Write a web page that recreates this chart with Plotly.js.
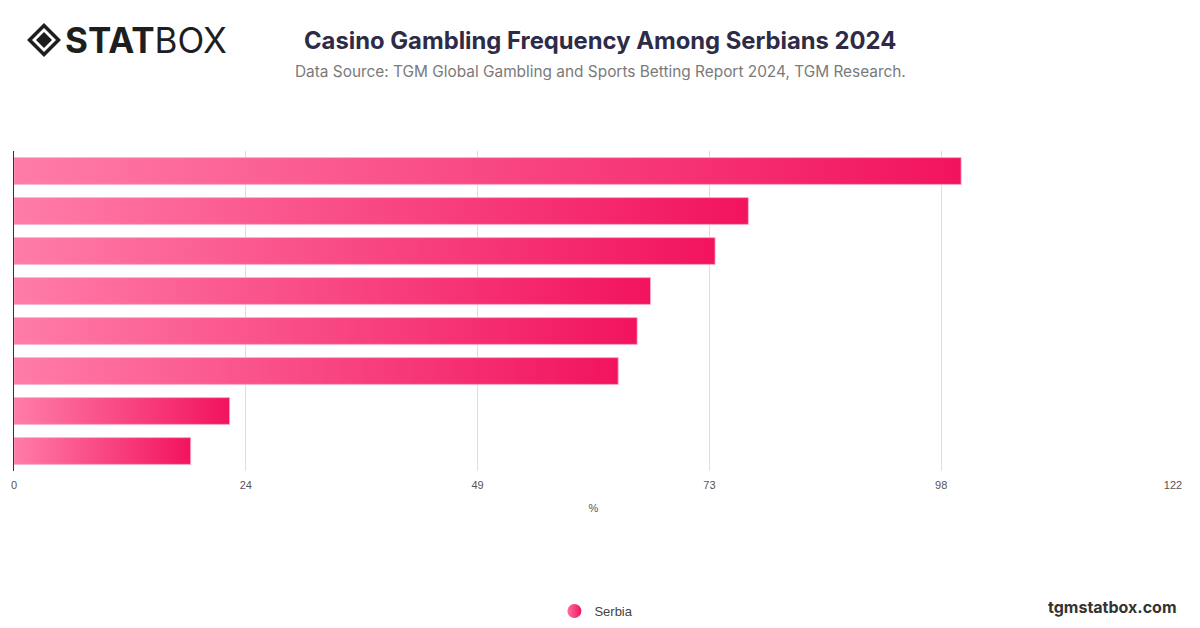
<!DOCTYPE html>
<html>
<head>
<meta charset="utf-8">
<script src="https://cdn.plot.ly/plotly-3.0.1.min.js"></script>
<style>
html,body{margin:0;padding:0;background:#fff;}
#chart{width:1200px;height:628px;}
</style>
</head>
<body>
<div id="chart"></div>
<script>
// Data (category labels are not shown in the reference)
var categories = ["Item 1","Item 2","Item 3","Item 4","Item 5","Item 6","Item 7","Item 8"];
var serbiaValues = [99.7, 77.3, 73.8, 67.0, 65.6, 63.6, 22.7, 18.6];
var tickValues = [0, 24.4, 48.8, 73.2, 97.6, 122];
var tickLabels = ["0","24","49","73","98","122"];
var seriesName = "Serbia";

var barTrace = {
  type: "bar",
  orientation: "h",
  y: categories,
  x: serbiaValues,
  name: seriesName,
  showlegend: false,
  marker: {color: "#f7417f", line: {color: "#ffb3cf", width: 0.8}},
  hoverinfo: "x"
};
var legendTrace = {
  type: "scatter",
  mode: "markers",
  x: [null], y: [null],
  name: seriesName,
  marker: {symbol: "circle", size: 14, color: "#f7417f"},
  showlegend: true,
  hoverinfo: "skip"
};

var layout = {
  width: 1200, height: 628,
  margin: {l: 14, r: 27, t: 151, b: 157},
  paper_bgcolor: "#ffffff",
  plot_bgcolor: "#ffffff",
  font: {family: "Inter, 'Liberation Sans', sans-serif", color: "#555"},
  bargap: 0.33,
  showlegend: true,
  legend: {orientation: "h", x: 0.497, xanchor: "center", xref: "container", y: 0.027, yanchor: "middle", yref: "container",
           font: {size: 13, color: "#444", family: "'Liberation Sans', sans-serif"}, itemwidth: 30},
  xaxis: {
    range: [0, 122], tickvals: tickValues, ticktext: tickLabels,
    showgrid: true, gridcolor: "#dedede", gridwidth: 1,
    zeroline: false, showline: false, ticks: "", ticklabelstandoff: 6,
    tickfont: {size: 11, color: "#555", family: "'Liberation Sans', sans-serif"},
    title: {text: "%", font: {size: 11, color: "#555", family: "'Liberation Sans', sans-serif"}, standoff: 14},
    fixedrange: true
  },
  yaxis: {
    autorange: "reversed", showticklabels: false, showgrid: false,
    showline: true, linecolor: "#333", linewidth: 1, ticks: "", zeroline: false,
    fixedrange: true
  },
  annotations: [
    {text: "<b>Casino Gambling Frequency Among Serbians 2024</b>", xref: "paper", yref: "paper",
     x: 0.5, y: 1, xanchor: "center", yanchor: "middle", yshift: 111, xshift: 6.5, showarrow: false,
     font: {size: 23.8, color: "#2e2b47", family: "Inter, 'Liberation Sans', sans-serif"}},
    {text: "Data Source: TGM Global Gambling and Sports Betting Report 2024, TGM Research.", xref: "paper", yref: "paper",
     x: 0.5, y: 1, xanchor: "center", yanchor: "middle", yshift: 80, xshift: 6.5, showarrow: false,
     font: {size: 15.4, color: "#7a7a7a", family: "Inter, 'Liberation Sans', sans-serif"}},
    {text: "<b>STAT</b>BOX", xref: "paper", yref: "paper", x: 0, y: 1, xanchor: "left", yanchor: "middle",
     xshift: 49, yshift: 111, showarrow: false,
     font: {size: 35, color: "#1e1e1e", family: "Inter, 'Liberation Sans', sans-serif"}},
    {text: "<b>tgmstatbox.com</b>", xref: "paper", yref: "paper", x: 1, y: 0, xanchor: "right", yanchor: "middle",
     xshift: 6, yshift: -136, showarrow: false,
     font: {size: 16, color: "#333", family: "Inter, 'Liberation Sans', sans-serif"}}
  ],
  shapes: [
    {type: "path", xref: "paper", yref: "paper", xsizemode: "pixel", ysizemode: "pixel", xanchor: 0, yanchor: 1,
     path: "M 13,111 L 30,128 L 47,111 L 30,94 Z", fillcolor: "#1e1e1e", line: {width: 0}},
    {type: "path", xref: "paper", yref: "paper", xsizemode: "pixel", ysizemode: "pixel", xanchor: 0, yanchor: 1,
     path: "M 18,111 L 30,123 L 42,111 L 30,99 Z", fillcolor: "#ffffff", line: {width: 0}},
    {type: "path", xref: "paper", yref: "paper", xsizemode: "pixel", ysizemode: "pixel", xanchor: 0, yanchor: 1,
     path: "M 22,111 L 30,119 L 38,111 L 30,103 Z", fillcolor: "#1e1e1e", line: {width: 0}}
  ]
};

Plotly.newPlot("chart", [barTrace, legendTrace], layout, {displayModeBar: false, staticPlot: true}).then(function(gd){
  var svg = gd.querySelector("svg.main-svg");
  var ns = "http://www.w3.org/2000/svg";
  var defs = svg.querySelector("defs");
  if (!defs) { defs = document.createElementNS(ns, "defs"); svg.insertBefore(defs, svg.firstChild); }
  function mkGrad(id, c1, c2) {
    var g = document.createElementNS(ns, "linearGradient");
    g.setAttribute("id", id);
    g.setAttribute("x1", "0"); g.setAttribute("y1", "0"); g.setAttribute("x2", "1"); g.setAttribute("y2", "0");
    var s1 = document.createElementNS(ns, "stop"); s1.setAttribute("offset", "0"); s1.setAttribute("stop-color", c1);
    var s2 = document.createElementNS(ns, "stop"); s2.setAttribute("offset", "1"); s2.setAttribute("stop-color", c2);
    g.appendChild(s1); g.appendChild(s2); defs.appendChild(g);
  }
  mkGrad("barGrad", "#ff7ca8", "#f2135f");
  mkGrad("dotGrad", "#ff6f9f", "#f0145f");
  gd.querySelectorAll(".barlayer .point path").forEach(function(p){ p.style.fill = "url(#barGrad)"; });
  gd.querySelectorAll(".legend .scatterpts path, .legend .legendpoints path").forEach(function(p){ p.style.fill = "url(#dotGrad)"; });
});
</script>
</body>
</html>
